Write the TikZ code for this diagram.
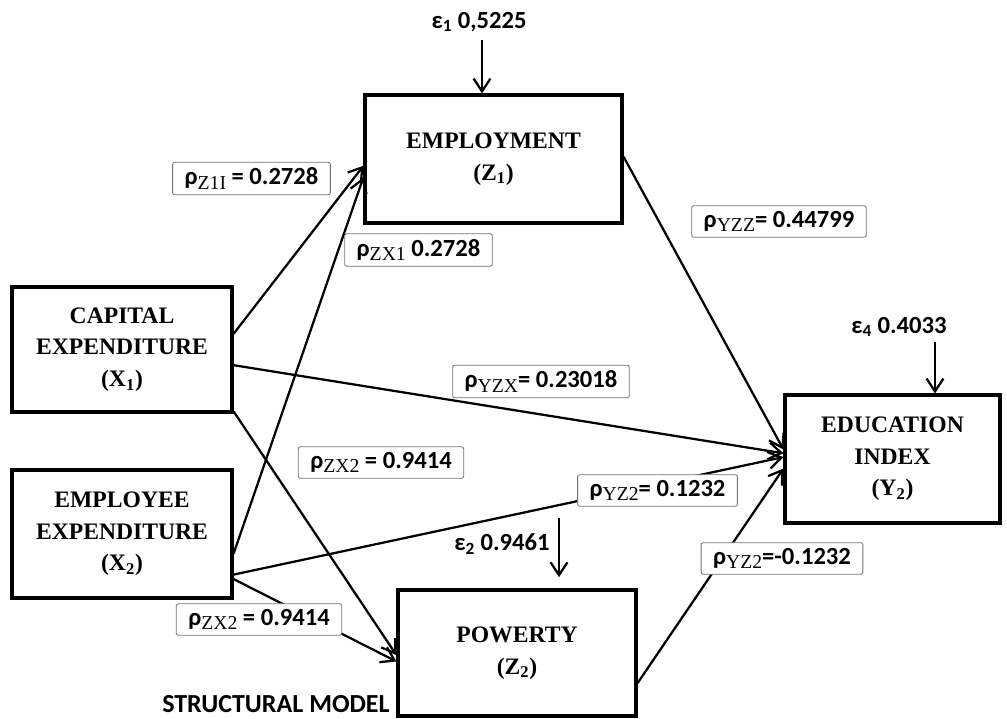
\documentclass[tikz,border=0pt]{standalone}
\usepackage{fontspec}
\setmainfont{Liberation Serif}
\newfontfamily\lblfont{Carlito}
\usetikzlibrary{arrows.meta,positioning}

\newcommand{\rsub}[1]{\raisebox{-0.35ex}{\rmfamily\mdseries\fontsize{14}{14}\selectfont #1}}

\tikzset{
	var/.style={draw, line width=2.2pt, align=center, inner sep=0pt,
		font=\bfseries\fontsize{16.8}{22.5}\selectfont},
	coef/.style={draw=black!55, line width=0.6pt, fill=white, rounded corners=1.5pt,
		inner xsep=8.5pt, inner ysep=4pt, font=\lblfont\bfseries\fontsize{17.5}{20}\selectfont},
	path/.style={line width=1.6pt, -{Straight Barb[length=3.2mm,width=4.2mm]}},
	err/.style={font=\lblfont\bfseries\fontsize{17.5}{20}\selectfont}
}

\begin{document}
\begin{tikzpicture}[x=0.025cm, y=-0.025cm]
			\useasboundingbox (0,0) rectangle (1007,718);
			\node(X1)	[var, minimum width=5.5cm, minimum height=3.125cm]	at (122,349.5)	{CAPITAL\\EXPENDITURE\\(X\textsubscript{1})};
			\node(X2)	[var, minimum width=5.5cm, minimum height=3.2cm]	at (122,534)	{EMPLOYEE\\EXPENDITURE\\(X\textsubscript{2})};
			\node(Z1)	[var, minimum width=6.425cm, minimum height=3.2cm]	at (493.5,159)	{EMPLOYMENT\\(Z\textsubscript{1})};
			\node(Y2)	[var, minimum width=5.375cm, minimum height=3.2cm]	at (892.5,459)	{EDUCATION\\INDEX\\(Y\textsubscript{2})};
			\node(Z2)	[var, minimum width=5.95cm, minimum height=3.15cm]	at (517,653)	{POWERTY\\(Z\textsubscript{2})};
			\draw[path](X1.8.5)      -- (Z1.183);
			\draw[path](X2.350.2)      -- (Z1.188.4);
			\draw[path](X1.352)      -- (Y2.177.9);
			\draw[path](X2.340.5)      -- (Y2.179);
			\draw[path](X1.331)      -- (Z2.181);
			\draw[path](X2.338.2)      -- (Z2.184.8);
			\draw[path](Z1.1)      -- (Y2.175.2);
			\draw[path](Z2.346.3)      -- (Y2.185.8);
			\node(eps1)	[err]	at (479,22)	{ε\textsubscript{1} 0,5225};
			\node(eps4)	[err]	at (899,327)	{ε\textsubscript{4} 0.4033};
			\node(eps2)	[err]	at (502,544)	{ε\textsubscript{2} 0.9461};
			\coordinate(e1)	at (482,40);
			\coordinate(e4)	at (935,342);
			\coordinate(e2)	at (559,518);
			\draw[path](e1)      -- (e1 |- Z1.north);
			\draw[path](e4)      -- (e4 |- Y2.north);
			\draw[path, shorten >=8pt](e2)      -- (e2 |- Z2.north);
			\node(cZ1I)	[coef]	at (251.5,178.5)	{ρ\rsub{Z1I} = 0.2728};
			\node(cZX1)	[coef]	at (418.5,250)	{ρ\rsub{ZX1} 0.2728};
			\node(cYZZ)	[coef]	at (779,221.5)	{ρ\rsub{YZZ}= 0.44799};
			\node(cYZX)	[coef]	at (541,381.5)	{ρ\rsub{YZX}= 0.23018};
			\node(cZX2a)	[coef]	at (381,462.5)	{ρ\rsub{ZX2} = 0.9414};
			\node(cYZ2a)	[coef]	at (657.5,490.5)	{ρ\rsub{YZ2}= 0.1232};
			\node(cYZ2b)	[coef]	at (782,558.5)	{ρ\rsub{YZ2}=-0.1232};
			\node(cZX2b)	[coef]	at (259,619.5)	{ρ\rsub{ZX2} = 0.9414};
			\node(title)	[font=\lblfont\bfseries\fontsize{18.5}{20}\selectfont]	at (276,704)	{STRUCTURAL MODEL};
		\end{tikzpicture}
\end{document}
